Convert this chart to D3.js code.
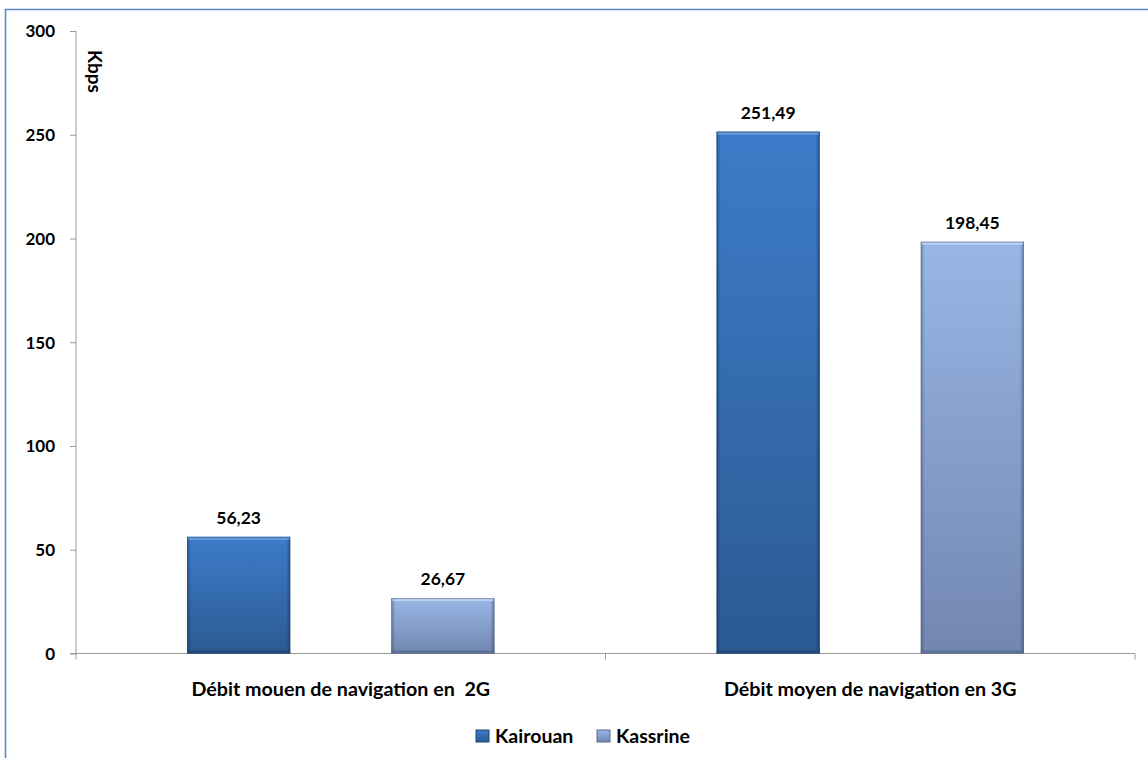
<!DOCTYPE html>
<html>
<head>
<meta charset="utf-8">
<script src="https://cdn.jsdelivr.net/npm/d3@7/dist/d3.min.js"></script>
<style>
  html, body { margin: 0; padding: 0; background: #fff; }
  svg { display: block; }
  text { font-family: Lato, "Open Sans", sans-serif; font-weight: bold; fill: #000; }
</style>
</head>
<body>
<svg id="chart" width="1148" height="758"></svg>
<script>
const categories = ["Débit mouen de navigation en  2G", "Débit moyen de navigation en 3G"];
const seriesNames = ["Kairouan", "Kassrine"];
const kairouan = [56.23, 251.49];
const kassrine = [26.67, 198.45];
const yTicks = [0, 50, 100, 150, 200, 250, 300];
const yUnit = "Kbps";

(function() {
const seriesValues = [kairouan, kassrine];
const fmt = v => v.toFixed(2).replace(".", ",");

const svg = d3.select("#chart");
const W = 1148, H = 758;
const pL = 76, pR = 1135, pT = 31, pB = 653.5;

// frame
svg.append("line").attr("x1", 5).attr("x2", W).attr("y1", 9.5).attr("y2", 9.5)
  .attr("stroke", "#5b88c8").attr("stroke-width", 1.6);
svg.append("line").attr("x1", 5.5).attr("x2", 5.5).attr("y1", 9).attr("y2", H)
  .attr("stroke", "#5b88c8").attr("stroke-width", 1.6);

const y = d3.scaleLinear().domain([0, 300]).range([pB, pT]);
const x0 = d3.scaleBand().domain(categories).range([pL, pR]).padding(0);
const x1 = d3.scaleBand().domain(seriesNames).range([0, x0.bandwidth()])
  .paddingInner(0.495).paddingOuter(0.544);

const defs = svg.append("defs");
const grads = [
  { id: "g0", top: "#3d7cc9", bottom: "#2b5a93", edge: "#1f4676", hi: "#6fa1df" },
  { id: "g1", top: "#98b6e6", bottom: "#7287b0", edge: "#5a6c92", hi: "#c0d4f3" }
];
grads.forEach(g => {
  const lg = defs.append("linearGradient").attr("id", g.id)
    .attr("x1", 0).attr("x2", 0).attr("y1", 0).attr("y2", 1);
  lg.append("stop").attr("offset", "0%").attr("stop-color", g.top);
  lg.append("stop").attr("offset", "100%").attr("stop-color", g.bottom);
  const sg = defs.append("linearGradient").attr("id", g.id + "s")
    .attr("x1", 0).attr("x2", 1).attr("y1", 0).attr("y2", 0);
  sg.append("stop").attr("offset", "0%").attr("stop-color", "#000").attr("stop-opacity", 0.25);
  sg.append("stop").attr("offset", "4%").attr("stop-color", "#000").attr("stop-opacity", 0);
  sg.append("stop").attr("offset", "96%").attr("stop-color", "#000").attr("stop-opacity", 0);
  sg.append("stop").attr("offset", "100%").attr("stop-color", "#000").attr("stop-opacity", 0.3);
});

// axes
const yAxis = d3.axisLeft(y).tickValues(yTicks).tickSize(6).tickFormat(d3.format("d"));
const gy = svg.append("g").attr("transform", `translate(${pL},0)`).call(yAxis);
gy.select(".domain").attr("d", `M0,${pT}V${pB + 6}`).attr("stroke", "#9a9a9a");
gy.selectAll(".tick line").attr("stroke", "#9a9a9a");
gy.selectAll(".tick text").attr("x", -21).attr("dy", "0.35em")
  .style("font-size", "17px").style("font-family", "Lato, 'Open Sans', sans-serif").style("font-weight", "bold");

const gx = svg.append("g").attr("transform", `translate(0,${pB})`);
gx.append("line").attr("x1", pL - 6).attr("x2", pR).attr("y1", 0).attr("y2", 0).attr("stroke", "#9a9a9a");
const bounds = [x0(categories[1]), pR];
bounds.forEach(b => gx.append("line").attr("x1", b).attr("x2", b).attr("y1", 0).attr("y2", 6).attr("stroke", "#9a9a9a"));
gx.selectAll("text.cat").data(categories).enter().append("text").attr("class", "cat")
  .attr("x", d => x0(d) + x0.bandwidth() / 2).attr("y", 42)
  .attr("text-anchor", "middle").style("font-size", "19.7px").style("white-space", "pre")
  .text(d => d);

// unit label
svg.append("text").attr("transform", "translate(88,50) rotate(90)")
  .style("font-size", "19px").text(yUnit);

// bars
const groups = svg.selectAll("g.cat").data(categories).enter().append("g")
  .attr("transform", d => `translate(${x0(d)},0)`);
seriesNames.forEach((s, si) => {
  groups.each(function(c, ci) {
    const v = seriesValues[si][ci];
    const g = d3.select(this);
    const bx = x1(s), bw = x1.bandwidth(), by = y(v), bh = y(0) - y(v);
    g.append("rect").attr("x", bx).attr("y", by).attr("width", bw).attr("height", bh)
      .attr("fill", `url(#${grads[si].id})`);
    g.append("rect").attr("x", bx).attr("y", by).attr("width", bw).attr("height", bh)
      .attr("fill", `url(#${grads[si].id}s)`);
    g.append("rect").attr("x", bx + 1).attr("y", by).attr("width", bw - 2).attr("height", 3)
      .attr("fill", grads[si].hi).attr("opacity", 0.9);
    g.append("rect").attr("x", bx).attr("y", y(0) - 3).attr("width", bw).attr("height", 3)
      .attr("fill", grads[si].edge).attr("opacity", 0.8);
    g.append("rect").attr("x", bx + 0.5).attr("y", by + 0.5).attr("width", bw - 1).attr("height", bh - 1)
      .attr("fill", "none").attr("stroke", grads[si].edge).attr("stroke-width", 1).attr("opacity", 0.6);
    g.append("text").attr("x", bx + bw / 2).attr("y", by - 13)
      .attr("text-anchor", "middle").style("font-size", "17.5px").text(fmt(v));
  });
});

// legend
const legend = svg.append("g").attr("transform", "translate(476,730)");
const lx = [0, 121];
seriesNames.forEach((s, i) => {
  const g = legend.append("g").attr("transform", `translate(${lx[i]},0)`);
  g.append("rect").attr("width", 13).attr("height", 12).attr("fill", `url(#${grads[i].id})`)
    .attr("stroke", grads[i].edge).attr("stroke-width", 1);
  g.append("text").attr("x", 19).attr("y", 12.5).style("font-size", "19.5px").text(s);
});
})();
</script>
</body>
</html>
